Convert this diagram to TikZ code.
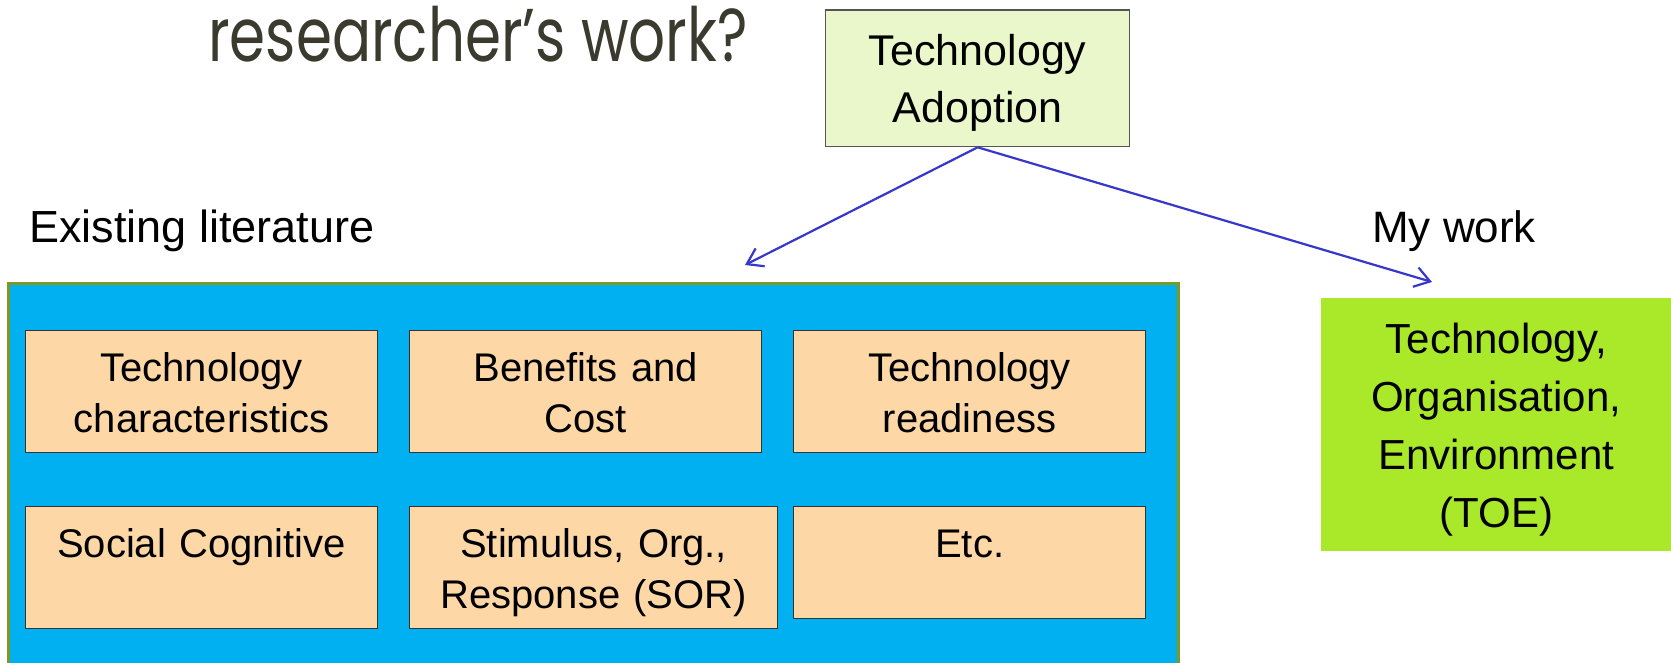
\documentclass[tikz,border=0pt]{standalone}
\usepackage{fontspec}
\setmainfont{Liberation Sans}
\newfontfamily\headfont{Poppins}
\usetikzlibrary{arrows.meta}
\definecolor{litblue}{HTML}{00B0F0}
\definecolor{litframe}{HTML}{7C9A22}
\definecolor{celltan}{HTML}{FDD7A6}
\definecolor{cellline}{HTML}{333333}
\definecolor{adoptfill}{HTML}{EAF7CA}
\definecolor{adoptline}{HTML}{555555}
\definecolor{toegreen}{HTML}{AAE82A}
\definecolor{linkblue}{HTML}{3737CC}
\definecolor{headgray}{HTML}{3B3A2E}
\tikzset{
  cell/.style={draw=cellline,line width=1.3pt,fill=celltan,anchor=north west,
    inner sep=0pt,align=center,text width=#1,text height=51pt,
    font=\fontsize{40}{50.5}\selectfont},
  cell/.default=352pt,
  link/.style={draw=linkblue,line width=2.2pt,
    -{Straight Barb[length=15pt,width=20pt]}},
  caption/.style={anchor=base west,inner sep=0pt,font=\fontsize{45}{50}\selectfont}
}
\begin{document}
\begin{tikzpicture}[x=1pt,y=-1pt]
  \useasboundingbox (0,0) rectangle (1671,663);
  \fill[white] (0,0) rectangle (1671,663);
  \clip (0,0) rectangle (1671,663);
  % heading, cut at the top
  \node[anchor=base west,inner sep=0pt,text=headgray,
    font=\headfont\fontsize{58}{60}\selectfont] (quest) at (208,62)
    {\scalebox{1}[1.29]{researcher’s work?}};
  % root box
  \node[draw=adoptline,line width=1.3pt,fill=adoptfill,anchor=north west,inner sep=0pt,
    align=center,text width=304pt,text height=55.5pt,text depth=81pt,
    font=\fontsize{43}{57}\selectfont] (adopt) at (825,9.5) {Technology\\Adoption};
  \node[caption] (exist) at (29,243) {Existing literature};
  \node[caption,font=\fontsize{44}{50}\selectfont] (mine) at (1372,243) {My work};
  % existing literature panel
  \node[draw=litframe,line width=3pt,fill=litblue,anchor=north west,
    minimum width=1170pt,minimum height=420pt,inner sep=0pt] (lit) at (7,282) {};
  \node[cell,text depth=71pt] (tc) at (25,330) {Technology\\characteristics};
  \node[cell,text depth=71pt] (bc) at (409,330) {Benefits and\\Cost};
  \node[cell,text depth=71pt] (tr) at (793,330) {Technology\\readiness};
  \node[cell,text depth=71pt] (sc) at (25,506) {Social Cognitive};
  \node[cell=368pt,text depth=71pt] (sor) at (409,506) {Stimulus, Org.,\\Response (SOR)};
  \node[cell,text depth=61pt] (etc) at (793,506) {Etc.};
  % my work
  \node[fill=toegreen,anchor=north west,inner sep=0pt,align=center,text width=350pt,
    text height=55pt,text depth=198pt,font=\fontsize{42}{58}\selectfont] (toe) at (1321,298)
    {Technology,\\Organisation,\\Environment\\(TOE)};
  \coordinate (litin) at (745,265);
  \coordinate (toein) at (1432,282);
  \draw[link] (adopt.south) -- (litin);
  \draw[link] (adopt.south) -- (toein);
\end{tikzpicture}
\end{document}
